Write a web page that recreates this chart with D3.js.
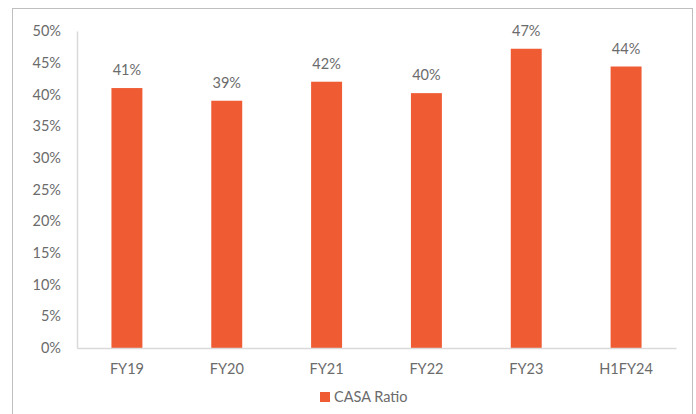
<!DOCTYPE html>
<html>
<head>
<meta charset="utf-8">
<script src="https://cdn.jsdelivr.net/npm/d3@7"></script>
<style>
  html, body { margin: 0; padding: 0; background: #fff; }
  svg text { font-family: Lato, "Open Sans", sans-serif; fill: #6B6B6B; }
</style>
</head>
<body>
<svg id="chart" width="696" height="414"></svg>
<script>
// CASA ratio by fiscal period
const categories = ["FY19", "FY20", "FY21", "FY22", "FY23", "H1FY24"];
const casaRatio = [41.0, 39.0, 42.0, 40.2, 47.2, 44.4];
const valueLabels = ["41%", "39%", "42%", "40%", "47%", "44%"];
const yTicks = [0, 5, 10, 15, 20, 25, 30, 35, 40, 45, 50];
const seriesName = "CASA Ratio";

const svg = d3.select("#chart");
const barColor = "#EF5B33";
const textColor = "#6B6B6B";

// outer frame
svg.append("rect")
  .attr("x", 12.5).attr("y", 8.5)
  .attr("width", 680).attr("height", 420)
  .attr("fill", "none").attr("stroke", "#BFBFBF").attr("stroke-width", 1);

const plot = { left: 77, right: 676, top: 31, bottom: 348 };

const x = d3.scaleBand()
  .domain(categories)
  .range([plot.left, plot.right])
  .paddingInner(0.69)
  .paddingOuter(0.345);

const y = d3.scaleLinear()
  .domain([0, 50])
  .range([plot.bottom, plot.top]);

// y axis
const yAxis = d3.axisLeft(y)
  .tickValues(yTicks)
  .tickFormat(d => d + "%")
  .tickSize(0)
  .tickPadding(16);
const gy = svg.append("g").attr("transform", `translate(${plot.left},0)`).call(yAxis);
gy.select(".domain").attr("stroke", "#D9D9D9").attr("stroke-width", 1.5);
gy.selectAll("text").style("font-size", "14.5px").attr("fill", textColor);

// bars
svg.append("g").selectAll("rect")
  .data(categories)
  .join("rect")
  .attr("x", d => x(d))
  .attr("y", (d, i) => y(casaRatio[i]))
  .attr("width", x.bandwidth())
  .attr("height", (d, i) => y(0) - y(casaRatio[i]))
  .attr("fill", barColor);

// value labels
svg.append("g").selectAll("text")
  .data(categories)
  .join("text")
  .attr("x", d => x(d) + x.bandwidth() / 2)
  .attr("y", (d, i) => y(casaRatio[i]) - 13)
  .attr("text-anchor", "middle")
  .style("font-size", "14.5px")
  .text((d, i) => valueLabels[i]);

// x axis
const xAxis = d3.axisBottom(x).tickSize(0).tickPadding(16);
const gx = svg.append("g").attr("transform", `translate(0,${plot.bottom})`).call(xAxis);
gx.select(".domain").attr("stroke", "#D9D9D9").attr("stroke-width", 1.5);
gx.selectAll("text").style("font-size", "14.5px").attr("fill", textColor);

// legend
const legend = svg.append("g").attr("transform", "translate(320,392)");
legend.append("rect").attr("width", 10).attr("height", 10).attr("fill", barColor);
legend.append("text")
  .attr("x", 14).attr("y", 5).attr("dy", "0.35em")
  .style("font-size", "14.5px")
  .text(seriesName);
</script>
</body>
</html>
